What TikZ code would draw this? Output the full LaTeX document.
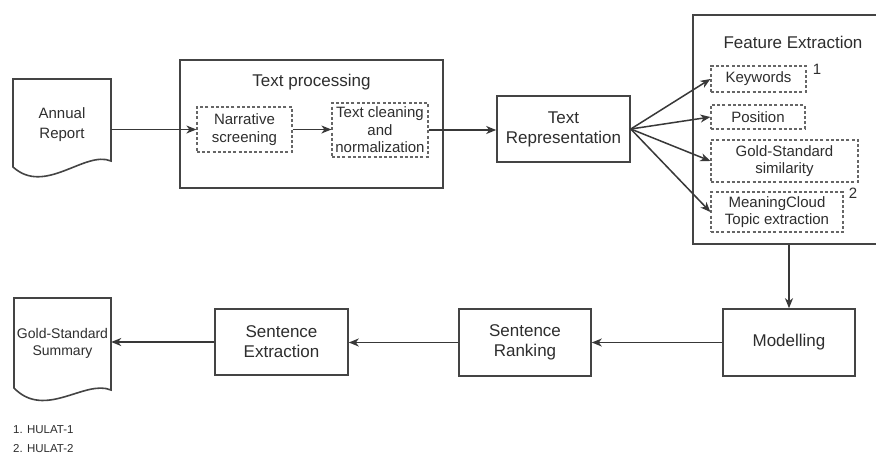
\documentclass[tikz,border=0pt]{standalone}
\usepackage{fontspec}
\setmainfont{Liberation Sans}
\usetikzlibrary{arrows.meta}
\definecolor{linec}{HTML}{444444}
\definecolor{textc}{HTML}{2E2E2E}
\definecolor{dashc}{HTML}{666666}
\begin{document}
\begin{tikzpicture}[x=1pt,y=-1pt,
  box/.style={draw=linec,line width=1.6pt,inner sep=0pt,align=center,text=textc},
  dbox/.style={draw=dashc,line width=1.2pt,dash pattern=on 3pt off 2.2pt,inner sep=0pt,align=center,text=textc},
  plain/.style={inner sep=0pt,align=center,text=textc},
  doc/.style={draw=linec,line width=1.6pt},
  arr/.style={draw=black!78,line width=1.5pt,-{Stealth[length=10pt,width=8pt,inset=3pt]}},
  fm/.style={font=\fontsize{15}{17.5}\selectfont},
  fl/.style={font=\fontsize{17}{20}\selectfont},
  fs/.style={font=\fontsize{11.5}{14}\selectfont},
]
\useasboundingbox (0,0) rectangle (876,456);
\clip (0,0) rectangle (876,456);
\fill[white] (0,0) rectangle (876,456);

% Annual Report document
\draw[doc] (13,79) -- (111,79) -- (111,161) .. controls (85,150) and (45,196) .. (13,167) -- cycle;
\node[plain,font=\fontsize{15}{20.5}\selectfont,minimum width=98pt,minimum height=60pt] (annual) at (62,124.5) {Annual\\Report};

% Text processing
\node[box,minimum width=263pt,minimum height=128pt] (tp) at (311.5,124) {};
\node[plain,fl] (tptitle) at (311.5,82) {Text processing};
\node[dbox,fm,minimum width=95pt,minimum height=45pt] (narr) at (244.5,129.5) {Narrative\\screening};
\node[dbox,fm,minimum width=96pt,minimum height=54pt] (clean) at (380,130) {Text cleaning\\and\\normalization};

% Text representation
\node[box,fl,minimum width=133pt,minimum height=66pt] (tr) at (563.5,129) {Text\\Representation};

% Feature extraction
\node[box,minimum width=187pt,minimum height=229pt] (fe) at (786.5,129.5) {};
\node[plain,fl] (fetitle) at (793,42) {Feature Extraction};
\node[dbox,fm,minimum width=95pt,minimum height=26pt] (kw) at (758.5,79) {Keywords};
\node[dbox,fm,minimum width=94pt,minimum height=24pt] (pos) at (758,117) {Position};
\node[dbox,fm,minimum width=147pt,minimum height=42pt] (gold) at (784.5,161) {Gold-Standard\\similarity};
\node[dbox,fm,minimum width=132pt,minimum height=40pt] (mc) at (777,212) {MeaningCloud\\Topic extraction};
\node[plain,fm] (n1) at (817,69) {1};
\node[plain,fm] (n2) at (853,193) {2};

% Bottom row
\node[box,fl,minimum width=132pt,minimum height=67pt] (model) at (789,342.5) {Modelling};
\node[box,fl,minimum width=132pt,minimum height=67pt] (rank) at (525,342.5) {Sentence\\Ranking};
\node[box,fl,minimum width=133pt,minimum height=66pt] (ext) at (281.5,342) {Sentence\\Extraction};

% Gold-standard summary document
\draw[doc] (14,298) -- (111,298) -- (111,390) .. controls (85,379) and (45,420) .. (14,388) -- cycle;
\node[plain,font=\fontsize{14}{17}\selectfont,minimum width=97pt,minimum height=90pt] (summ) at (62.5,343) {Gold-Standard\\Summary};

% Footnotes
\node[plain,fs,anchor=west] (f1) at (13,430) {1. HULAT-1};
\node[plain,fs,anchor=west] (f2) at (13,449) {2. HULAT-2};

% Connectors
\draw[arr] (annual.east |- narr.west) -- (narr.west);
\draw[arr] (narr.east) -- (narr.east -| clean.west);
\draw[arr] (clean.east) -- (clean.east -| tr.west);
\draw[arr] (tr.east) -- (kw.west);
\draw[arr] (tr.east) -- (pos.west);
\draw[arr] (tr.east) -- (gold.west);
\draw[arr] (tr.east) -- (mc.west);
\draw[arr] (fe.south -| model.north) -- (model.north);
\draw[arr] (model.west) -- (model.west -| rank.east);
\draw[arr] (rank.west) -- (rank.west -| ext.east);
\draw[arr] (ext.west) -- (ext.west -| summ.east);
\end{tikzpicture}
\end{document}
